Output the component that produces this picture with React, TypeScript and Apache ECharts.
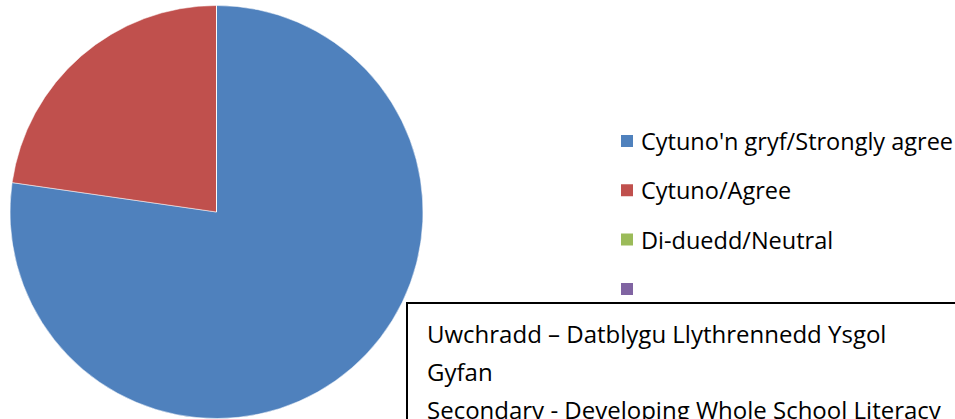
import React, { useEffect, useRef } from "react";
import * as echarts from "echarts";

const categories = ["Cytuno'n gryf/Strongly agree", "Cytuno/Agree", "Di-duedd/Neutral", " "];
const values = [17, 5, 0, 0];
const colors = ["#4F81BD", "#C0504D", "#9BBB59", "#8064A2"];
const boxLines = [
  "Uwchradd – Datblygu Llythrennedd Ysgol",
  "Gyfan",
  "Secondary - Developing Whole School Literacy",
];

export default function App() {
  const ref = useRef<HTMLDivElement>(null);
  useEffect(() => {
    document.body.style.margin = "0";
    const chart = echarts.init(ref.current!, null, { renderer: "svg" });
    const font = "'Open Sans', sans-serif";
    chart.setOption({
      animation: false,
      backgroundColor: "#ffffff",
      color: colors,
      legend: {
        orient: "vertical",
        left: 619,
        top: 129,
        padding: 0,
        itemWidth: 14,
        itemHeight: 14,
        itemGap: 25.3,
        icon: "rect",
        selectedMode: false,
        data: categories,
        textStyle: { fontFamily: font, fontSize: 23.5, lineHeight: 23, color: "#000", padding: [0, 0, 0, 2] },
      },
      series: [
        {
          type: "pie",
          center: [216.5, 212],
          radius: 206.5,
          startAngle: 90,
          clockwise: true,
          silent: true,
          label: { show: false },
          labelLine: { show: false },
          emphasis: { disabled: true },
          itemStyle: { borderColor: "#ffffff", borderWidth: 0.5 },
          data: categories.map((c, i) => ({ name: c, value: values[i] })),
        },
      ],
      graphic: [
        {
          type: "rect",
          z: 100,
          shape: { x: 407, y: 303, width: 620, height: 200 },
          style: { fill: "#ffffff", stroke: "#000000", lineWidth: 2 },
        },
        ...boxLines.map((t, i) => ({
          type: "text",
          z: 101,
          x: 427,
          y: 333 + i * 38,
          style: {
            text: t,
            font: `24px ${font}`,
            fill: "#000000",
            textVerticalAlign: "middle",
          },
        })),
      ],
    });
    return () => chart.dispose();
  }, []);
  return <div ref={ref} style={{ position: "fixed", left: 0, top: 0, width: 955, height: 419 }} />;
}
